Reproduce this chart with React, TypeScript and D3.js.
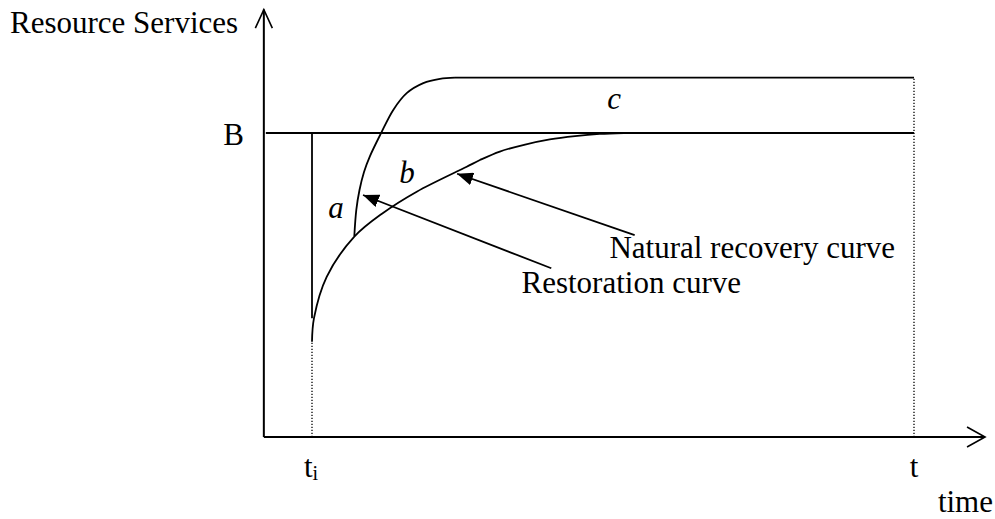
import React from "react";
import * as d3 from "d3";

// Time axis: t_i = 0, t = 100. Resource services: 0 at x-axis, baseline B = 100.
const naturalTime = [0, 0.33, 2.44, 7.03, 11.8, 17.4, 25.7, 27.9, 31.2, 35.4, 39.5, 43.7, 47.8, 51.8];
const naturalValue = [31.3, 39.1, 52.7, 65.9, 73.7, 80.7, 88.9, 91.1, 93.9, 96.2, 97.9, 99.0, 99.7, 100];
const restorationTime = [7.03, 7.36, 7.89, 8.64, 9.63, 11.46, 13.5, 15.73, 18.49, 21.26, 23.75, 100];
const restorationValue = [66.1, 74.7, 81.25, 87.2, 92.4, 99.9, 107.6, 113.1, 116.4, 117.8, 118.2, 118.2];
const baselineValue = 100;
const tickLabels = ["t", "t"]; // t_i and t
const tickTimes = [0, 100];
const axisLabels = ["Resource Services", "time"];
const areaLabels = ["a", "b", "c"];
const areaLabelTimes = [3.99, 15.8, 50.2];
const areaLabelValues = [72.0, 83.6, 107.9];
const curveNames = ["Natural recovery curve", "Restoration curve"];
const arrowFromTime = [53.6, 39.75];
const arrowFromValue = [66.4, 55.5];
const arrowToTime = [24.1, 8.47];
const arrowToValue = [86.6, 79.6];
const curveNameTimes = [49.4, 34.8];
const curveNameValues = [58.9, 47.4];

const W = 995;
const H = 519;
const FONT = "Liberation Serif, Times New Roman, serif";
const FS = 31;
const textStyle: React.CSSProperties = { fontFamily: FONT, fontSize: FS };

export default function App() {
  const x = d3.scaleLinear().domain([0, 100]).range([312, 914]);
  const y = d3.scaleLinear().domain([0, 100]).range([437, 133]);
  const tMin = -8;
  const tMax = 111.8;
  const vMax = 140.6;

  const curveLine = d3
    .line<[number, number]>()
    .x((d) => x(d[0]))
    .y((d) => y(d[1]))
    .curve(d3.curveCatmullRom.alpha(0.5));
  const straight = d3
    .line<[number, number]>()
    .x((d) => x(d[0]))
    .y((d) => y(d[1]));

  const natPts = naturalTime.map((t, i) => [t, naturalValue[i]]) as [number, number][];
  const resPts = restorationTime.map((t, i) => [t, restorationValue[i]]) as [number, number][];
  const natural = curveLine(natPts);
  const restorationRise = curveLine(resPts.slice(0, resPts.length - 1));
  const restorationFlat = straight(resPts.slice(resPts.length - 2));

  const x0 = x(tMin);
  const y0 = y(0);
  const xTip = x(tMax);
  const yTip = y(vMax);
  const topLevel = restorationValue[restorationValue.length - 1];

  return (
    <svg
      width={W}
      height={H}
      style={{ position: "absolute", left: 0, top: 0, background: "#fff" }}
    >
      <defs>
        <marker
          id="tri"
          viewBox="0 0 16 13"
          refX={16}
          refY={6.5}
          markerWidth={16}
          markerHeight={13}
          markerUnits="userSpaceOnUse"
          orient="auto"
        >
          <path d="M0,0 L16,6.5 L0,13 Z" fill="#000" />
        </marker>
      </defs>

      {/* axes */}
      <line x1={x0} y1={y0} x2={x0} y2={yTip} stroke="#000" strokeWidth={2} />
      <line x1={x0} y1={y0} x2={xTip} y2={y0} stroke="#000" strokeWidth={2} />
      <path
        d={`M${x0 - 8.5},${yTip + 18.5} L${x0},${yTip} L${x0 + 8.5},${yTip + 18.5}`}
        fill="none"
        stroke="#000"
        strokeWidth={1.6}
      />
      <path
        d={`M${xTip - 18},${y0 - 10} L${xTip},${y0} L${xTip - 18},${y0 + 10}`}
        fill="none"
        stroke="#000"
        strokeWidth={1.6}
      />

      {/* baseline B */}
      <line x1={x0 + 2} y1={y(baselineValue)} x2={x(100)} y2={y(baselineValue)} stroke="#000" strokeWidth={1.8} />

      {/* dotted verticals */}
      <line
        x1={x(0)}
        y1={y0}
        x2={x(0)}
        y2={y(naturalValue[0])}
        stroke="#000"
        strokeWidth={1.3}
        strokeDasharray="1.3,1.7"
      />
      <line
        x1={x(100)}
        y1={y0}
        x2={x(100)}
        y2={y(topLevel)}
        stroke="#000"
        strokeWidth={1.3}
        strokeDasharray="1.3,1.7"
      />

      {/* solid vertical at t_i */}
      <line x1={x(0)} y1={y(baselineValue)} x2={x(0)} y2={y(naturalValue[1])} stroke="#000" strokeWidth={1.8} />

      {/* curves */}
      <path d={natural ?? ""} fill="none" stroke="#000" strokeWidth={1.8} />
      <path d={restorationRise ?? ""} fill="none" stroke="#000" strokeWidth={1.8} />
      <path d={restorationFlat ?? ""} fill="none" stroke="#000" strokeWidth={1.8} />

      {/* arrows */}
      {arrowFromTime.map((t, i) => (
        <line
          key={i}
          x1={x(t)}
          y1={y(arrowFromValue[i])}
          x2={x(arrowToTime[i])}
          y2={y(arrowToValue[i])}
          stroke="#000"
          strokeWidth={1.8}
          markerEnd="url(#tri)"
        />
      ))}

      {/* texts */}
      <text x={10} y={33} style={textStyle}>
        {axisLabels[0]}
      </text>
      <text x={993} y={512} style={textStyle} textAnchor="end">
        {axisLabels[1]}
      </text>
      <text x={x0 - 20} y={y(baselineValue) + 11.5} style={textStyle} textAnchor="end">
        B
      </text>
      <text x={x(tickTimes[0]) - 1} y={477} style={textStyle} textAnchor="middle">
        {tickLabels[0]}
        <tspan style={{ fontSize: FS * 0.65 }} dy={3}>
          i
        </tspan>
      </text>
      <text x={x(tickTimes[1])} y={477} style={textStyle} textAnchor="middle">
        {tickLabels[1]}
      </text>
      {areaLabels.map((l, i) => (
        <text
          key={l}
          x={x(areaLabelTimes[i])}
          y={y(areaLabelValues[i])}
          style={{ ...textStyle, fontStyle: "italic" }}
          textAnchor="middle"
        >
          {l}
        </text>
      ))}
      {curveNames.map((n, i) => (
        <text key={n} x={x(curveNameTimes[i])} y={y(curveNameValues[i])} style={textStyle}>
          {n}
        </text>
      ))}
    </svg>
  );
}
